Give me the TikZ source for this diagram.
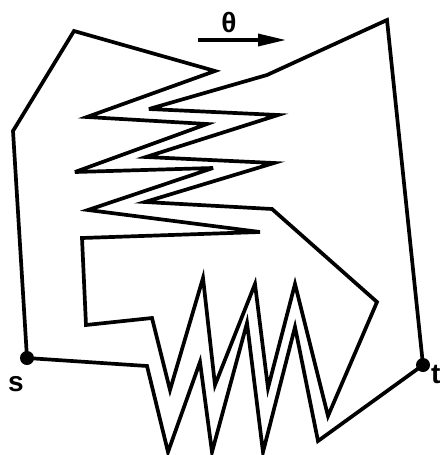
\documentclass[tikz,border=0pt]{standalone}
\usepackage{fontspec}
\setmainfont{Liberation Sans}
\usetikzlibrary{arrows.meta}
\begin{document}
\begin{tikzpicture}[x=1pt,y=-1pt,
  wall/.style={line width=3.7pt,line join=miter,miter limit=6},
  vdot/.style={circle,fill,inner sep=0pt,minimum size=14pt},
  lbl/.style={font=\bfseries\fontsize{28}{30}\selectfont,inner sep=0pt}]
\useasboundingbox (0,0) rectangle (441,455);
\coordinate (s) at (27,358);
\coordinate (t) at (423,365);
\draw[wall] (s) -- (13,131) -- (74,31) -- (215,71) -- (87,117) -- (207,124)
  -- (75,172) -- (213,168) -- (88,210) -- (260,232) -- (82,238) -- (86,325)
  -- (152,318) -- (170,390) -- (203,278) -- (215,385) -- (255,284) -- (268,388)
  -- (295,284) -- (328,416) -- (377,302) -- (272,209) -- (145,202) -- (274,163)
  -- (146,157) -- (278,115) -- (149,109) -- (267,75) -- (387,20) -- (t)
  -- (318,441) -- (295,327) -- (263,452) -- (247,323) -- (212,452) -- (200,362)
  -- (168,452) -- (147,366) -- cycle;
\node[vdot] (sd) at (s) {};
\node[vdot] (td) at (t) {};
\node[lbl] (sl) at (16,384) {s};
\node[lbl,anchor=west] (tl) at (431,374) {t};
\node[lbl] (th) at (229,22) {θ};
\coordinate (a0) at (198,40);
\coordinate (a1) at (286,40);
\draw[line width=3.3pt,-{Triangle[length=28pt,width=12pt]}] (a0) -- (a1);
\end{tikzpicture}
\end{document}
